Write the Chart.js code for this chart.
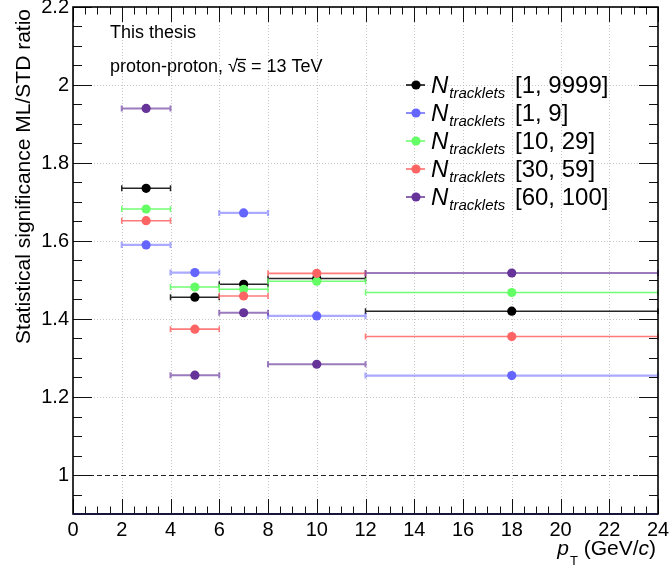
<!DOCTYPE html>
<html>
<head>
<meta charset="utf-8">
<title>ML/STD significance ratio</title>
<script src="https://cdn.jsdelivr.net/npm/chart.js@4.4.1/dist/chart.umd.min.js"></script>
<style>
  html, body { margin: 0; padding: 0; background: #fff; }
  canvas { display: block; }
</style>
</head>
<body>
<canvas id="ratioChart" width="669" height="570"></canvas>
<script>
// pT bin edges (GeV/c)
const binLow = [2, 4, 6, 8, 12];
const binHigh = [4, 6, 8, 12, 24];

// significance ratio ML/STD, one array per tracklet class
const ratioAll = [1.735, 1.456, 1.489, 1.504, 1.420];
const ratio1to9 = [1.590, 1.519, 1.672, 1.408, 1.255];
const ratio10to29 = [1.682, 1.482, 1.476, 1.497, 1.468];
const ratio30to59 = [1.652, 1.374, 1.459, 1.517, 1.355];
const ratio60to100 = [1.940, 1.256, 1.416, 1.284, 1.518];

const classLabels = ['[1, 9999]', '[1, 9]', '[10, 29]', '[30, 59]', '[60, 100]'];

const xTicks = [0, 2, 4, 6, 8, 10, 12, 14, 16, 18, 20, 22, 24];
const yTicks = [1, 1.2, 1.4, 1.6, 1.8, 2, 2.2];

const FONT = "'Liberation Sans', Helvetica, Arial, sans-serif";

const series = [
  { values: ratioAll,     color: '#000000', bar: 'rgba(0,0,0,0.85)',        barWidth: 1.5 },
  { values: ratio1to9,    color: '#6464ff', bar: 'rgba(100,100,255,0.55)',  barWidth: 2.2 },
  { values: ratio10to29,  color: '#64ff64', bar: 'rgba(100,255,100,0.9)',   barWidth: 1.5 },
  { values: ratio30to59,  color: '#ff6464', bar: 'rgba(255,100,100,0.85)',  barWidth: 1.6 },
  { values: ratio60to100, color: '#663399', bar: 'rgba(102,51,153,0.65)',   barWidth: 2 }
];

const datasets = series.map((s, i) => ({
  label: classLabels[i],
  data: s.values.map((v, k) => ({ x: (binLow[k] + binHigh[k]) / 2, y: v })),
  backgroundColor: s.color,
  borderWidth: 0,
  pointRadius: 4.6,
  pointHoverRadius: 4.6,
  showLine: false,
  // lowest order is painted last, so later classes end up on top
  order: series.length - i,
  barColor: s.bar,
  barWidth: s.barWidth
}));

// horizontal bin-width bars with small end caps, drawn just before each dataset's markers
const errorBars = {
  id: 'errorBars',
  beforeDatasetDraw(chart, args) {
    const ds = chart.data.datasets[args.index];
    const xs = chart.scales.x, ys = chart.scales.y;
    const ctx = chart.ctx;
    ctx.save();
    ctx.strokeStyle = ds.barColor;
    ctx.lineWidth = ds.barWidth;
    ds.data.forEach((p, k) => {
      const x0 = xs.getPixelForValue(binLow[k]);
      const x1 = xs.getPixelForValue(binHigh[k]);
      const y = ys.getPixelForValue(p.y);
      ctx.beginPath();
      ctx.moveTo(x0, y); ctx.lineTo(x1, y);
      ctx.moveTo(x0, y - 3); ctx.lineTo(x0, y + 3);
      ctx.moveTo(x1, y - 3); ctx.lineTo(x1, y + 3);
      ctx.stroke();
    });
    ctx.restore();
  }
};

// dotted grid and the dashed reference line at 1
const background = {
  id: 'background',
  beforeDatasetsDraw(chart) {
    const { ctx, chartArea: a, scales: { x, y } } = chart;
    ctx.save();
    ctx.strokeStyle = '#c8c8c8';
    ctx.lineWidth = 1;
    ctx.setLineDash([1, 2]);
    xTicks.slice(1, -1).forEach(v => {
      const px = Math.round(x.getPixelForValue(v)) + 0.5;
      ctx.beginPath(); ctx.moveTo(px, a.top); ctx.lineTo(px, a.bottom); ctx.stroke();
    });
    yTicks.slice(1, -1).forEach(v => {
      const py = Math.round(y.getPixelForValue(v)) + 0.5;
      ctx.beginPath(); ctx.moveTo(a.left, py); ctx.lineTo(a.right, py); ctx.stroke();
    });
    ctx.strokeStyle = '#222';
    ctx.setLineDash([5, 3]);
    const py1 = Math.round(y.getPixelForValue(1)) + 0.5;
    ctx.beginPath(); ctx.moveTo(a.left, py1); ctx.lineTo(a.right, py1); ctx.stroke();
    ctx.restore();
  }
};

// frame, inward ticks, axis titles, labels and legend
const decorations = {
  id: 'decorations',
  afterDatasetsDraw(chart) {
    const { ctx, chartArea: a, scales: { x, y } } = chart;
    ctx.save();

    // ticks
    ctx.strokeStyle = '#111';
    ctx.lineWidth = 1;
    for (let v = 0; v <= 24.001; v += 0.5) {
      const px = Math.round(x.getPixelForValue(v)) + 0.5;
      const len = Math.abs(v % 2) < 1e-6 ? 15 : 7.5;
      ctx.beginPath();
      ctx.moveTo(px, a.bottom); ctx.lineTo(px, a.bottom - len);
      ctx.moveTo(px, a.top); ctx.lineTo(px, a.top + len);
      ctx.stroke();
    }
    for (let v = 0.9; v <= 2.2001; v += 0.05) {
      const py = Math.round(y.getPixelForValue(v)) + 0.5;
      const major = Math.abs(Math.round(v * 5) - v * 5) < 1e-6;
      const len = major ? 19 : 9;
      ctx.beginPath();
      ctx.moveTo(a.left, py); ctx.lineTo(a.left + len, py);
      ctx.moveTo(a.right, py); ctx.lineTo(a.right - len, py);
      ctx.stroke();
    }

    // frame
    ctx.lineWidth = 1.6;
    ctx.strokeStyle = '#000';
    ctx.strokeRect(a.left, a.top, a.right - a.left, a.bottom - a.top);
    ctx.lineWidth = 2;
    ctx.strokeStyle = '#15163a';
    ctx.beginPath(); ctx.moveTo(a.left, a.bottom); ctx.lineTo(a.right, a.bottom); ctx.stroke();

    ctx.fillStyle = '#000';
    ctx.textBaseline = 'alphabetic';

    // y title, right-aligned to the top of the frame
    ctx.save();
    ctx.translate(30, a.top + 2);
    ctx.rotate(-Math.PI / 2);
    ctx.textAlign = 'right';
    ctx.font = '21px ' + FONT;
    ctx.fillText('Statistical significance ML/STD ratio', 0, 0);
    ctx.restore();

    // x title: p_T (GeV/c)
    ctx.textAlign = 'left';
    const base = 555;
    const pieces = [
      { t: 'p', f: 'italic 21px ' + FONT, dy: 0 },
      { t: 'T', f: '13px ' + FONT, dy: 10, pad: 1 },
      { t: ' (GeV/', f: '21px ' + FONT, dy: 0 },
      { t: 'c', f: 'italic 21px ' + FONT, dy: 0 },
      { t: ')', f: '21px ' + FONT, dy: 0 }
    ];
    let total = 0;
    pieces.forEach(p => { ctx.font = p.f; p.w = ctx.measureText(p.t).width + (p.pad || 0); total += p.w; });
    let cx = a.right - total - 2;
    pieces.forEach(p => { ctx.font = p.f; ctx.fillText(p.t, cx + (p.pad || 0), base + p.dy); cx += p.w; });

    // header text
    ctx.font = '18px ' + FONT;
    ctx.fillText('This thesis', 110, 38);
    let tx = 110;
    const head = 'proton-proton, ';
    ctx.fillText(head, tx, 72);
    tx += ctx.measureText(head).width;
    ctx.fillText('\u221A', tx, 72);
    tx += ctx.measureText('\u221A').width - 1;
    const sW = ctx.measureText('s').width;
    ctx.fillText('s', tx, 72);
    ctx.lineWidth = 1.2;
    ctx.strokeStyle = '#000';
    ctx.beginPath(); ctx.moveTo(tx - 1, 59.5); ctx.lineTo(tx + sW, 59.5); ctx.stroke();
    tx += sW;
    ctx.fillText(' = 13 TeV', tx, 72);

    // legend
    const lx = 416, ly0 = 85, step = 28;
    series.forEach((s, i) => {
      const ly = ly0 + i * step;
      ctx.strokeStyle = s.color;
      ctx.lineWidth = 1.5;
      ctx.beginPath(); ctx.moveTo(lx - 10, ly); ctx.lineTo(lx + 9, ly); ctx.stroke();
      ctx.fillStyle = s.color;
      ctx.beginPath(); ctx.arc(lx, ly, 4.6, 0, Math.PI * 2); ctx.fill();
      ctx.fillStyle = '#000';
      ctx.font = 'italic 24px ' + FONT;
      ctx.fillText('N', 431, ly + 8);
      const nW = ctx.measureText('N').width;
      ctx.font = 'italic 15px ' + FONT;
      ctx.fillText('tracklets', 431 + nW + 1, ly + 13);
      ctx.font = '24px ' + FONT;
      ctx.fillText(classLabels[i], 515, ly + 8);
    });

    ctx.restore();
  }
};

new Chart(document.getElementById('ratioChart'), {
  type: 'scatter',
  data: { datasets },
  options: {
    responsive: false,
    animation: false,
    devicePixelRatio: 1,
    events: [],
    layout: { padding: { top: 7, right: 11, left: 0, bottom: 0 } },
    plugins: { legend: { display: false }, tooltip: { enabled: false } },
    scales: {
      x: {
        type: 'linear',
        min: 0,
        max: 24,
        afterBuildTicks: s => { s.ticks = xTicks.map(v => ({ value: v })); },
        afterFit: s => { s.height = 56; s.paddingLeft = 0; s.paddingRight = 0; },
        grid: { display: false, drawTicks: false },
        border: { display: false },
        ticks: {
          color: '#000',
          font: { family: FONT, size: 20 },
          padding: 4,
          maxRotation: 0,
          autoSkip: false,
          callback: v => String(v)
        }
      },
      y: {
        type: 'linear',
        min: 0.9,
        max: 2.2,
        afterBuildTicks: s => { s.ticks = yTicks.map(v => ({ value: v })); },
        afterFit: s => { s.width = 73; s.paddingTop = 0; s.paddingBottom = 0; },
        grid: { display: false, drawTicks: false },
        border: { display: false },
        ticks: {
          color: '#000',
          font: { family: FONT, size: 20 },
          padding: 4,
          autoSkip: false,
          callback: v => String(+v.toFixed(1))
        }
      }
    }
  },
  plugins: [background, errorBars, decorations]
});
</script>
</body>
</html>
